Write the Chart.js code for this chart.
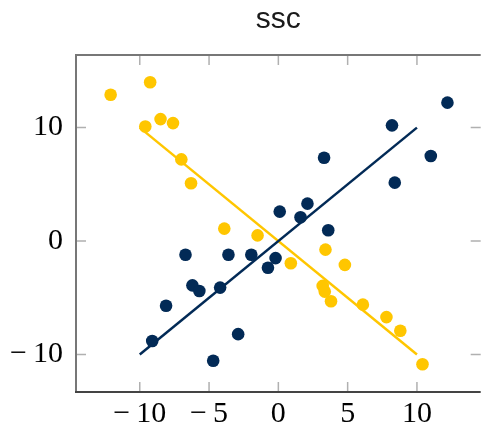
<!DOCTYPE html>
<html>
<head>
<meta charset="utf-8">
<script src="https://cdn.jsdelivr.net/npm/chart.js@4.4.0/dist/chart.umd.min.js"></script>
<style>
    html, body { margin: 0; padding: 0; background: #fff; overflow: hidden; }
    #wrap { width: 483px; height: 430px; overflow: hidden; }
    canvas { display: block; }
</style>
</head>
<body>
<div id="wrap"><canvas id="sscChart" width="487" height="430"></canvas></div>
<script>
// Navy series
const navyX = [12.2, 8.2, 11.0, 3.3, 8.4, 0.1, 2.1, 1.6, 3.6, -6.7, -3.6, -1.95, -0.75, -0.2, -6.2, -5.7, -4.2, -8.1, -9.1, -2.9, -4.7];
const navyY = [12.2, 10.2, 7.5, 7.35, 5.15, 2.6, 3.3, 2.1, 0.95, -1.2, -1.2, -1.2, -2.35, -1.5, -3.9, -4.4, -4.1, -5.7, -8.8, -8.2, -10.55];

// Yellow series
const yellowX = [-12.1, -9.25, -9.6, -8.5, -7.6, -7.0, -6.3, -3.9, -1.5, 0.9, 3.4, 4.8, 3.2, 3.35, 3.8, 6.1, 7.8, 8.8, 10.4];
const yellowY = [12.9, 14.0, 10.1, 10.75, 10.4, 7.2, 5.1, 1.1, 0.5, -1.95, -0.75, -2.1, -3.95, -4.45, -5.3, -5.6, -6.7, -7.9, -10.85];

// Fitted lines
const lineX = [-10, 10];
const navyLineY = [-10, 10];
const yellowLineY = [10, -10];

// Ticks
const xTicks = [-10, -5, 0, 5, 10];
const xTickLabels = ['\u2212\u2009' + '10', '\u2212\u2009' + '5', '0', '5', '10'];
const yTicks = [-10, 0, 10];
const yTickLabels = ['\u2212\u2009' + '10', '0', '10'];

const NAVY = '#022a56';
const YELLOW = '#ffc600';

function toPoints(xs, ys) {
    return xs.map(function(x, i) { return { x: x, y: ys[i] }; });
}

// frame on three sides plus inward tick marks on every side
const framePlugin = {
    id: 'frame',
    beforeDatasetsDraw: function(chart) {
        const ctx = chart.ctx;
        const a = chart.chartArea;
        const xs = chart.scales.x;
        const ys = chart.scales.y;
        const len = 10;
        ctx.save();
        ctx.strokeStyle = '#b0b0b0';
        ctx.lineWidth = 1.5;
        ctx.beginPath();
        xTicks.forEach(function(v) {
            const px = xs.getPixelForValue(v);
            ctx.moveTo(px, a.bottom); ctx.lineTo(px, a.bottom - len);
            ctx.moveTo(px, a.top); ctx.lineTo(px, a.top + len);
        });
        yTicks.forEach(function(v) {
            const py = ys.getPixelForValue(v);
            ctx.moveTo(a.left, py); ctx.lineTo(a.left + len, py);
            ctx.moveTo(a.right, py); ctx.lineTo(a.right - len, py);
        });
        ctx.stroke();

        ctx.strokeStyle = '#777';
        ctx.lineWidth = 2;
        ctx.beginPath();
        ctx.moveTo(a.right, a.top);
        ctx.lineTo(a.left, a.top);
        ctx.lineTo(a.left, a.bottom);
        ctx.stroke();
        ctx.strokeStyle = '#444';
        ctx.beginPath();
        ctx.moveTo(a.left - 1, a.bottom);
        ctx.lineTo(a.right, a.bottom);
        ctx.stroke();
        ctx.restore();
    }
};

const tickFont = { family: '"Liberation Serif", "Times New Roman", serif', size: 30 };

new Chart(document.getElementById('sscChart'), {
    type: 'scatter',
    data: {
        datasets: [
            {
                label: 'navy',
                data: toPoints(navyX, navyY),
                backgroundColor: NAVY,
                borderWidth: 0,
                pointRadius: 6.3
            },
            {
                label: 'yellow',
                data: toPoints(yellowX, yellowY),
                backgroundColor: YELLOW,
                borderWidth: 0,
                pointRadius: 6.3
            },
            {
                label: 'navy fit',
                data: toPoints(lineX, navyLineY),
                showLine: true,
                borderColor: NAVY,
                borderWidth: 2.5,
                pointRadius: 0
            },
            {
                label: 'yellow fit',
                data: toPoints(lineX, yellowLineY),
                showLine: true,
                borderColor: YELLOW,
                borderWidth: 2.5,
                pointRadius: 0
            }
        ]
    },
    options: {
        responsive: false,
        animation: false,
        layout: { padding: { left: 0, right: 2, top: 0, bottom: 0 } },
        plugins: {
            legend: { display: false },
            tooltip: { enabled: false },
            title: {
                display: true,
                // centred over the plot area rather than the whole canvas
                fullSize: false,
                text: 'ssc',
                color: '#1a1a1a',
                font: { family: '"Liberation Sans", Arial, sans-serif', size: 30, weight: 'normal' },
                padding: { top: 2, bottom: 17 }
            }
        },
        scales: {
            x: {
                type: 'linear',
                min: -14.6,
                max: 14.6,
                border: { display: false },
                grid: { display: false, drawTicks: false },
                afterBuildTicks: function(scale) {
                    scale.ticks = xTicks.map(function(v) { return { value: v }; });
                },
                afterFit: function(scale) { scale.height = 38; },
                ticks: {
                    padding: 4,
                    maxRotation: 0,
                    color: '#000',
                    font: tickFont,
                    callback: function(value) {
                        return xTickLabels[xTicks.indexOf(value)];
                    }
                }
            },
            y: {
                type: 'linear',
                min: -13.3,
                max: 16.4,
                border: { display: false },
                grid: { display: false, drawTicks: false },
                afterBuildTicks: function(scale) {
                    scale.ticks = yTicks.map(function(v) { return { value: v }; });
                },
                afterFit: function(scale) { scale.width = 76; },
                ticks: {
                    padding: 13,
                    color: '#000',
                    font: tickFont,
                    callback: function(value) {
                        return yTickLabels[yTicks.indexOf(value)];
                    }
                }
            }
        }
    },
    plugins: [framePlugin]
});
</script>
</body>
</html>
